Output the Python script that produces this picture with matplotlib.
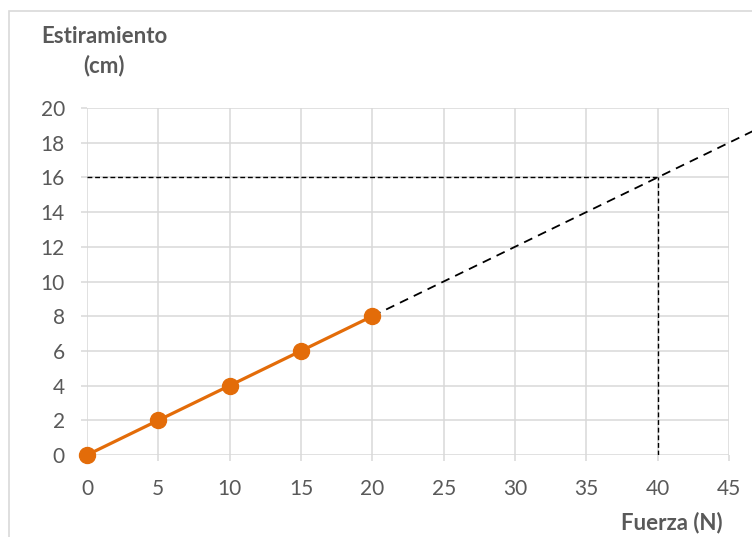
import matplotlib
matplotlib.use("Agg")
import matplotlib.pyplot as plt
from matplotlib.patches import Rectangle

fuerza = [0, 5, 10, 15, 20]
estiramiento = [0, 2, 4, 6, 8]
extrap_x = [20, 47]
extrap_y = [8, 18.8]
lectura_x = 40
lectura_y = 16
xticks = [0, 5, 10, 15, 20, 25, 30, 35, 40, 45]
yticks = [0, 2, 4, 6, 8, 10, 12, 14, 16, 18, 20]

plt.rcParams['font.family'] = ['Lato', 'DejaVu Sans']
grey = '#d9d9d9'
txt = '#595959'

fig = plt.figure(figsize=(7.52, 5.37), dpi=100)
fig.patches.append(Rectangle((9/752, -0.1), 1.2, 1 - 11/537 + 0.1, transform=fig.transFigure,
                             fill=False, edgecolor=grey, linewidth=1.2))
ax = fig.add_axes([87/752, 1 - 455/537, (729-87)/752, (455-108)/537])
ax.set_xlim(0, 45)
ax.set_ylim(0, 20)
ax.set_xticks(xticks)
ax.set_yticks(yticks)
ax.grid(True, color=grey, linewidth=1.1)
ax.set_axisbelow(True)
for s in ax.spines.values():
    s.set_visible(False)
ax.tick_params(axis='both', colors=grey, labelcolor=txt, labelsize=15, length=4, width=1.1)
ax.tick_params(axis='x', pad=13)
ax.tick_params(axis='y', pad=12)

ax.plot([0, lectura_x], [lectura_y, lectura_y], color='black', linewidth=1.0, dashes=(3.5, 2))
ax.plot([lectura_x, lectura_x], [0, lectura_y], color='black', linewidth=1.0, dashes=(3.5, 2))
ax.plot(extrap_x, extrap_y, color='black', linewidth=1.3, dashes=(5, 3.5), clip_on=False)
ax.plot(fuerza, estiramiento, color='#E36C09', linewidth=2.3, marker='o', markersize=11.5,
        clip_on=False, zorder=5)

fig.text(104/752, 1 - 51/537, 'Estiramiento\n(cm)', ha='center', va='center', fontsize=16,
         fontweight='bold', color=txt, linespacing=1.45)
fig.text(723/752, 1 - 523/537, 'Fuerza (N)', ha='right', va='center', fontsize=16,
         fontweight='bold', color=txt)

fig.savefig('out.png', dpi=100)
